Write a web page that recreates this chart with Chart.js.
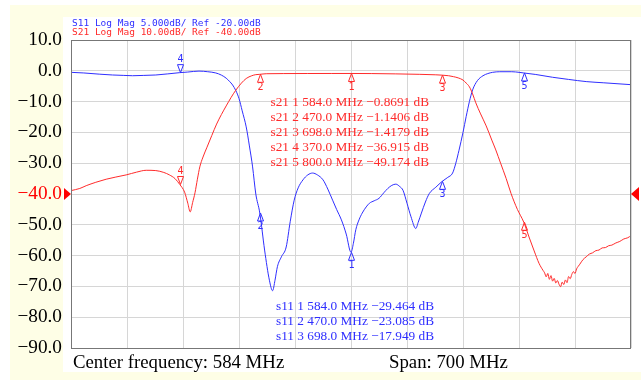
<!DOCTYPE html>
<html>
<head>
<meta charset="utf-8">
<script src="https://cdn.jsdelivr.net/npm/chart.js@4/dist/chart.umd.min.js"></script>
<style>
  html, body { margin: 0; padding: 0; background: #ffffff; }
  #wrap { width: 641px; height: 380px; position: relative; }
  canvas { display: block; }
</style>
</head>
<body>
<div id="wrap"><canvas id="vna" width="641" height="380"></canvas></div>
<script>
// Sweep settings (MHz)
const centerMHz = 584;
const spanMHz = 700;
const startMHz = centerMHz - spanMHz / 2;
const stopMHz = centerMHz + spanMHz / 2;

// S21 transmission trace: frequency (MHz) and magnitude (dB)
const freqS21 = [
  234, 245, 253, 265, 278, 290, 303, 316, 328, 340, 350, 357, 364, 370, 376, 380, 383, 386, 389, 392,
  395, 399, 404, 410, 416, 422, 428, 434, 440, 447, 453, 460, 465, 470, 478, 500, 530, 560, 584, 610,
  640, 670, 690, 698, 706, 712, 718, 724, 728, 732, 736, 740, 746, 753, 760, 765, 771, 778, 784, 792,
  800, 807, 813, 819, 824, 826, 828, 830, 832, 834, 836, 838, 840, 842, 844, 846, 848, 850, 852, 854,
  856, 858, 860, 862, 864, 866, 868, 870, 874, 878, 882, 886, 890, 894, 898, 902, 906, 910, 915, 920,
  925, 930, 934
];
const s21Db = [
  -38.9, -38.2, -37.3, -36.2, -35.2, -34.5, -33.8, -32.9, -32.3, -32.4, -33.0, -33.8, -35.0, -36.915, -39.4, -43.0, -45.8, -42.8, -39.6, -35.2,
  -31.2, -28.0, -24.8, -21.0, -17.3, -14.2, -11.4, -8.7, -6.3, -4.0, -2.5, -1.6, -1.25, -1.1406, -0.95, -0.9, -0.88, -0.87, -0.8691, -0.9,
  -1.0, -1.15, -1.3, -1.4179, -1.6, -1.9, -2.3, -3.0, -4.0, -5.2, -7.5, -10.4, -14.0, -17.9, -22.5, -25.7, -30.0, -35.0, -39.8, -45.0,
  -49.174, -54.3, -58.5, -62.5, -64.8, -65.6, -66.9, -65.8, -67.7, -66.5, -68.3, -67.4, -68.9, -68.1, -69.3, -70.1, -68.6, -69.4, -67.9, -68.8,
  -66.8, -67.5, -66.1, -65.2, -65.8, -64.3, -63.5, -62.8, -61.3, -60.4, -59.5, -59.1, -58.4, -58.2, -57.5, -57.4, -56.8, -56.6, -55.9, -55.4,
  -54.6, -54.2, -53.5
];

// S11 reflection trace: frequency (MHz) and magnitude (dB)
const freqS11 = [
  234, 250, 270, 286, 300, 311, 325, 340, 355, 370, 380, 394, 405, 415, 422, 428, 432, 436, 440, 444,
  448, 453, 457, 461, 465, 470, 476, 482, 486, 489, 492, 497, 503, 508, 513, 518, 524, 530, 536, 542,
  549, 555, 561, 566, 572, 578, 584, 587, 590, 594, 598, 603, 607, 613, 619, 625, 630, 635, 640, 645,
  649, 654, 659, 665, 668, 672, 677, 682, 690, 698, 705, 711, 715, 719, 724, 728, 732, 736, 742, 749,
  755, 761, 770, 785, 794, 800, 815, 836, 856, 878, 900, 934
];
const s11Db = [
  -0.25, -0.35, -0.55, -0.68, -0.75, -0.8, -0.75, -0.68, -0.5, -0.30, -0.2, -0.05, -0.15, -0.35, -0.7, -1.2, -1.7, -2.3, -3.2, -4.5,
  -6.5, -9.1, -12.2, -15.6, -20.0, -23.085, -29.1, -34.0, -35.7, -34.0, -31.8, -30.2, -28.6, -24.5, -21.0, -19.0, -17.7, -16.9, -16.6, -16.9,
  -17.7, -19.2, -21.0, -22.5, -24.2, -26.5, -29.464, -28.0, -25.8, -24.2, -23.1, -22.1, -21.5, -21.1, -20.7, -19.8, -19.1, -18.6, -18.4, -18.8,
  -19.4, -21.5, -23.7, -25.6, -24.6, -23.1, -21.3, -19.9, -18.9, -17.949, -17.3, -16.6, -15.0, -12.9, -10.0, -7.4, -5.0, -3.1, -1.6, -0.8,
  -0.45, -0.25, -0.15, -0.15, -0.25, -0.35, -0.6, -1.05, -1.4, -1.75, -1.95, -2.25
];

// Markers 1..5 (same frequencies on both traces)
const markerFreqs = [584, 470, 698, 370, 800];
const markerPointsDown = [false, false, false, true, false];
const s21MarkerDb = [-0.8691, -1.1406, -1.4179, -36.915, -49.174];
const s11MarkerDb = [-29.464, -23.085, -17.949, -0.30, -0.35];
const s11ListedCount = 3;

// Display format: S21 10 dB/div ref -40 dB, S11 5 dB/div ref -20 dB
const s21Ref = -40, s21PerDiv = 10;
const s11Ref = -20, s11PerDiv = 5;
const refDivFromTop = 5, divisions = 10;
const yTickValues = [10, 0, -10, -20, -30, -40, -50, -60, -70, -80, -90];
const freqGrid = [234, 304, 374, 444, 514, 584, 654, 724, 794, 864, 934];

const RED = '#ff2b2b';
const BLUE = '#2f2fff';
const CREAM = '#fefee6';
const SERIF = '"Liberation Serif", "Times New Roman", serif';

const minus = s => s.replace(/-/g, '\u2212');
const fmtDb = v => minus(String(Number(v.toPrecision(5))));

const decor = {
  id: 'decor',
  beforeDraw(chart) {
    const c = chart.ctx;
    c.save();
    c.fillStyle = '#ffffff';
    c.fillRect(0, 0, chart.width, chart.height);
    c.fillStyle = CREAM;
    c.fillRect(10, 5, chart.width - 10, chart.height - 5);
    c.fillStyle = '#ffffff';
    c.fillRect(63, 17, chart.width - 63, 355);
    // trace format header
    c.font = '9.5px "DejaVu Sans Mono", monospace';
    c.textBaseline = 'middle';
    c.textAlign = 'left';
    c.fillStyle = BLUE;
    c.fillText('S11 Log Mag ' + s11PerDiv.toFixed(3) + 'dB/ Ref ' + s11Ref.toFixed(2) + 'dB', 72, 23.5);
    c.fillStyle = RED;
    c.fillText('S21 Log Mag ' + s21PerDiv.toFixed(2) + 'dB/ Ref ' + s21Ref.toFixed(2) + 'dB', 72, 32.5);
    c.restore();
  },
  afterDatasetsDraw(chart) {
    const c = chart.ctx;
    const xs = chart.scales.x;
    const traces = [
      { scale: chart.scales.y, vals: s21MarkerDb, color: RED },
      { scale: chart.scales.y11, vals: s11MarkerDb, color: BLUE }
    ];
    c.save();
    c.lineWidth = 1;
    c.font = '10px "DejaVu Sans Mono", monospace';
    c.textAlign = 'center';
    traces.forEach(t => {
      c.strokeStyle = t.color;
      c.fillStyle = t.color;
      markerFreqs.forEach((f, i) => {
        const px = Math.round(xs.getPixelForValue(f)) + 0.5;
        const py = t.scale.getPixelForValue(t.vals[i]);
        const dir = markerPointsDown[i] ? -1 : 1;
        c.beginPath();
        c.moveTo(px, py);
        c.lineTo(px - 3, py + dir * 8);
        c.lineTo(px + 3, py + dir * 8);
        c.closePath();
        c.stroke();
        if (dir > 0) {
          c.textBaseline = 'top';
          c.fillText(String(i + 1), px, py + 8.5);
        } else {
          c.textBaseline = 'bottom';
          c.fillText(String(i + 1), px, py - 8);
        }
      });
    });
    c.restore();
  },
  afterDraw(chart) {
    const c = chart.ctx;
    const a = chart.chartArea;
    c.save();
    // frame
    c.strokeStyle = '#777777';
    c.lineWidth = 1;
    c.strokeRect(a.left + 0.5, a.top + 0.5, a.right - a.left - 1, a.bottom - a.top);
    // reference level arrows
    const ry = Math.round(chart.scales.y.getPixelForValue(s21Ref));
    c.fillStyle = '#ff0000';
    c.beginPath();
    c.moveTo(a.left, ry); c.lineTo(a.left - 7, ry - 6); c.lineTo(a.left - 7, ry + 6); c.closePath();
    c.fill();
    c.beginPath();
    c.moveTo(a.right, ry); c.lineTo(a.right + 8, ry - 7); c.lineTo(a.right + 8, ry + 7); c.closePath();
    c.fill();
    // marker readouts
    c.font = '13.3px ' + SERIF;
    c.textAlign = 'left';
    c.textBaseline = 'alphabetic';
    c.fillStyle = RED;
    markerFreqs.forEach((f, i) => {
      c.fillText('s21 ' + (i + 1) + ' ' + f.toFixed(1) + ' MHz ' + fmtDb(s21MarkerDb[i]) + ' dB', 270.5, 106 + i * 15);
    });
    c.fillStyle = BLUE;
    for (let i = 0; i < s11ListedCount; i++) {
      c.fillText('s11 ' + (i + 1) + ' ' + markerFreqs[i].toFixed(1) + ' MHz ' + fmtDb(s11MarkerDb[i]) + ' dB', 276, 310 + i * 15);
    }
    // sweep footer
    c.font = '18.8px ' + SERIF;
    c.fillStyle = '#000000';
    c.fillText('Center frequency: ' + centerMHz + ' MHz', 73, 367.5);
    c.fillText('Span: ' + spanMHz + ' MHz', 389, 367.5);
    c.restore();
  }
};

const s21Top = s21Ref + refDivFromTop * s21PerDiv;
const s11Top = s11Ref + refDivFromTop * s11PerDiv;

new Chart(document.getElementById('vna'), {
  type: 'line',
  data: {
    datasets: [
      {
        label: 'S21',
        data: freqS21.map((f, i) => ({ x: f, y: s21Db[i] })),
        yAxisID: 'y',
        borderColor: RED,
        borderWidth: 1,
        pointRadius: 0,
        cubicInterpolationMode: 'monotone'
      },
      {
        label: 'S11',
        data: freqS11.map((f, i) => ({ x: f, y: s11Db[i] })),
        yAxisID: 'y11',
        borderColor: BLUE,
        borderWidth: 1,
        pointRadius: 0,
        cubicInterpolationMode: 'monotone'
      }
    ]
  },
  options: {
    responsive: false,
    animation: false,
    devicePixelRatio: 1,
    layout: { padding: { top: 40, right: 10, bottom: 32, left: 0 } },
    plugins: { legend: { display: false }, tooltip: { enabled: false } },
    scales: {
      x: {
        type: 'linear',
        min: startMHz,
        max: stopMHz,
        afterBuildTicks: s => { s.ticks = freqGrid.map(v => ({ value: v })); },
        afterFit: s => { s.height = 0; },
        ticks: { display: false },
        grid: { color: '#d6d6d6', lineWidth: 1, drawTicks: false },
        border: { display: false }
      },
      y: {
        position: 'left',
        min: s21Top - divisions * s21PerDiv,
        max: s21Top,
        afterBuildTicks: s => { s.ticks = yTickValues.map(v => ({ value: v })); },
        afterFit: s => { s.width = 71; },
        ticks: {
          padding: 9,
          font: { family: SERIF, size: 19.3 },
          color: ctx => ctx.tick.value === s21Ref ? '#ff0000' : '#000000',
          callback: v => minus(v.toFixed(1))
        },
        grid: { color: '#d6d6d6', lineWidth: 1, drawTicks: false },
        border: { display: false }
      },
      y11: {
        display: false,
        position: 'right',
        min: s11Top - divisions * s11PerDiv,
        max: s11Top
      }
    }
  },
  plugins: [decor]
});
</script>
</body>
</html>
